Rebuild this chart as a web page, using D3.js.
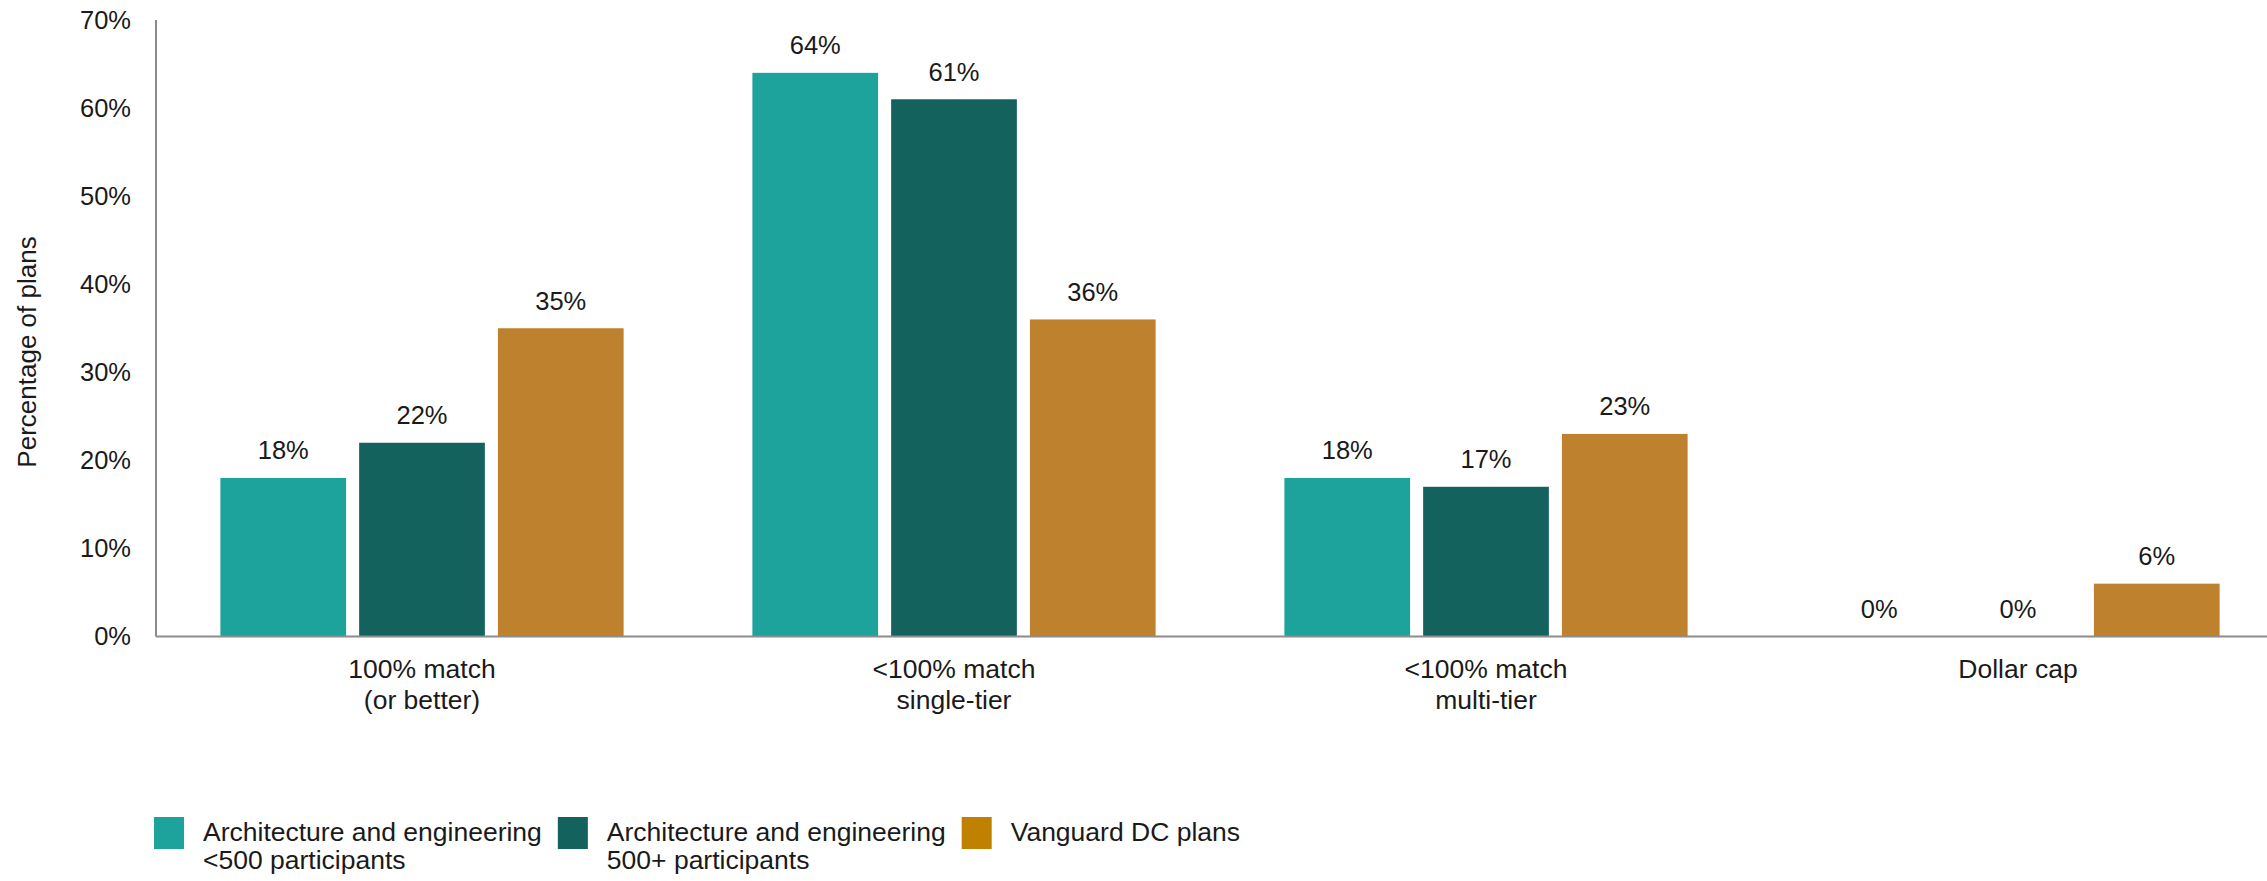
<!DOCTYPE html>
<html>
<head>
<meta charset="utf-8">
<script src="https://cdn.jsdelivr.net/npm/d3@7"></script>
<style>
  html, body { margin: 0; padding: 0; background: #fff; }
  svg { display: block; font-family: "Liberation Sans", Arial, sans-serif; }
  .axis path { stroke: #8c8c8c; stroke-width: 2; }
  .axis text { fill: #1a1a1a; font-family: "Liberation Sans", Arial, sans-serif; }
  .y-axis text { font-size: 25.5px; }
  .x-axis text { font-size: 26.5px; }
  .value-label { fill: #1a1a1a; font-size: 25.5px; }
  .legend text { fill: #1a1a1a; font-size: 26.5px; }
  .y-title { fill: #1a1a1a; font-size: 26px; }
</style>
</head>
<body>
<div id="chart"></div>
<script>
// chart data
const categories = [
  ["100% match", "(or better)"],
  ["<100% match", "single-tier"],
  ["<100% match", "multi-tier"],
  ["Dollar cap"]
];
const seriesNames = [
  ["Architecture and engineering", "<500 participants"],
  ["Architecture and engineering", "500+ participants"],
  ["Vanguard DC plans"]
];
const smallPlans = [18, 64, 18, 0];
const largePlans = [22, 61, 17, 0];
const vanguardPlans = [35, 36, 23, 6];
const yTicks = [0, 10, 20, 30, 40, 50, 60, 70];

const barColors = ["#1da39b", "#13625e", "#be822e"];
const legendColors = ["#1da39b", "#13625e", "#c08000"];

const W = 2267, H = 881;
const left = 156, baseY = 636.5, topY = 20;
const bandW = 532;

const svg = d3.select("#chart").append("svg")
  .attr("width", W).attr("height", H)
  .attr("viewBox", `0 0 ${W} ${H}`);

const series = [smallPlans, largePlans, vanguardPlans];

const x0 = d3.scaleBand()
  .domain(categories.map((c, i) => i))
  .range([left, left + bandW * categories.length]);

const x1 = d3.scaleBand()
  .domain(d3.range(series.length))
  .range([0, x0.bandwidth()])
  .paddingInner(0.094)
  .paddingOuter(0.464);

const y = d3.scaleLinear().domain([0, 70]).range([baseY, topY]);

// y axis
const yAxis = svg.append("g")
  .attr("class", "axis y-axis")
  .attr("transform", `translate(${left},0)`)
  .call(d3.axisLeft(y).tickValues(yTicks).tickSize(0).tickPadding(25).tickFormat(d => d + "%"));
yAxis.select(".domain").attr("d", `M0,${topY}V${baseY}`);

svg.append("text")
  .attr("class", "y-title")
  .attr("transform", "translate(36,352) rotate(-90)")
  .attr("text-anchor", "middle")
  .text("Percentage of plans");

// bars
const groups = svg.append("g").selectAll("g")
  .data(categories.map((c, i) => i))
  .join("g")
  .attr("transform", i => `translate(${x0(i)},0)`);

groups.selectAll("rect")
  .data(i => series.map((s, k) => ({k, v: s[i]})))
  .join("rect")
  .attr("x", d => x1(d.k))
  .attr("y", d => y(d.v))
  .attr("width", x1.bandwidth())
  .attr("height", d => baseY - y(d.v))
  .attr("fill", d => barColors[d.k]);

groups.selectAll("text")
  .data(i => series.map((s, k) => ({k, v: s[i]})))
  .join("text")
  .attr("class", "value-label")
  .attr("x", d => x1(d.k) + x1.bandwidth() / 2)
  .attr("y", d => y(d.v) - 18.5)
  .attr("text-anchor", "middle")
  .text(d => d.v + "%");

// x axis
const xAxis = svg.append("g")
  .attr("class", "axis x-axis")
  .attr("transform", `translate(0,${baseY})`)
  .call(d3.axisBottom(x0).tickSize(0).tickSizeOuter(0));
xAxis.select(".domain").attr("d", `M${left},0H${W}`);
xAxis.selectAll(".tick text").each(function(i) {
  const t = d3.select(this).text(null).attr("y", 0).attr("dy", null);
  categories[i].forEach((line, j) => {
    t.append("tspan").attr("x", 0).attr("y", 41.5 + j * 30.5).text(line);
  });
});

// legend
const legend = svg.append("g").attr("class", "legend");
let lx = 154;
seriesNames.forEach((lines, k) => {
  legend.append("rect")
    .attr("x", lx).attr("y", 817)
    .attr("width", 30).attr("height", 32)
    .attr("fill", legendColors[k]);
  const t = legend.append("text");
  lines.forEach((line, j) => {
    t.append("tspan").attr("x", lx + 49).attr("y", 841 + j * 28).text(line);
  });
  const w = d3.max(t.selectAll("tspan").nodes(), n => n.getComputedTextLength());
  lx = lx + 49 + w + 16;
});
</script>
</body>
</html>
